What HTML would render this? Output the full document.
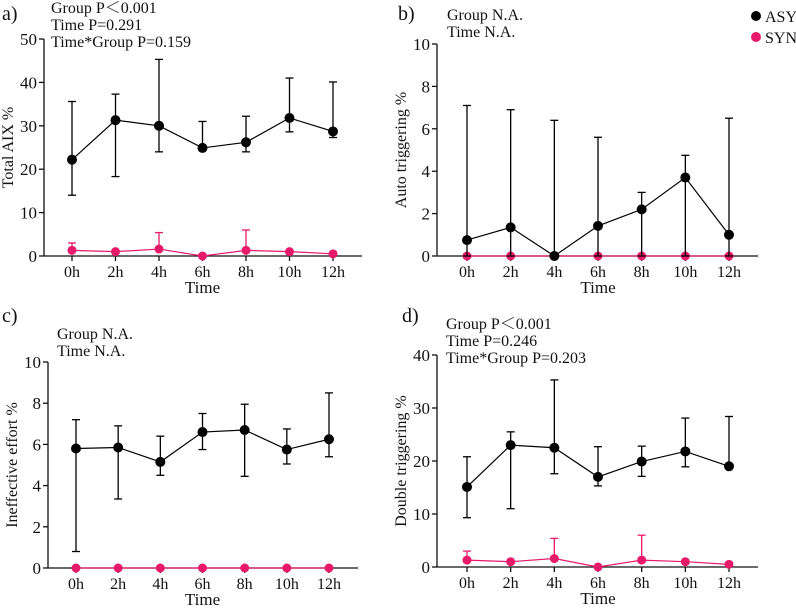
<!DOCTYPE html>
<html><head><meta charset="utf-8"><style>
body{margin:0;background:#fff;}
svg text{font-family:"Liberation Serif","Noto Serif CJK SC",serif;fill:#111;}
</style></head><body>
<svg id="fig" width="796" height="605" viewBox="0 0 796 605" xmlns="http://www.w3.org/2000/svg"></svg>
<script>
const categories=["0h","2h","4h","6h","8h","10h","12h"];
const aAsy=[22.2,31.3,30.0,24.9,26.2,31.8,28.7];
const aAsyLo=[14.0,18.3,24.0,24.9,24.0,28.6,27.3];
const aAsyHi=[35.6,37.3,45.3,31.0,32.2,41.0,40.1];
const aSyn=[1.3,1.0,1.6,0,1.3,1.0,0.5];
const aSynHi=[3.0,1.0,5.4,0,6.0,1.0,0.5];
const bAsy=[0.75,1.35,0,1.42,2.2,3.7,1.0];
const bAsyLo=[0,0,0,0,0,0,0];
const bAsyHi=[7.1,6.9,6.4,5.6,3.0,4.75,6.5];
const bSyn=[0,0,0,0,0,0,0];
const cAsy=[5.8,5.85,5.15,6.6,6.7,5.75,6.25];
const cAsyLo=[0.8,3.35,4.5,5.75,4.45,5.05,5.4];
const cAsyHi=[7.2,6.9,6.4,7.5,7.95,6.75,8.5];
const cSyn=[0,0,0,0,0,0,0];
const dAsy=[15.1,23.0,22.5,17.0,19.9,21.8,19.0];
const dAsyLo=[9.3,11.0,17.6,15.3,17.1,18.9,19.0];
const dAsyHi=[20.8,25.5,35.3,22.7,22.8,28.1,28.4];
const dSyn=[1.3,1.0,1.6,0,1.3,1.0,0.5];
const dSynHi=[3.0,1.0,5.4,0,6.0,1.0,0.5];
const aTicks=[0,10,20,30,40,50];
const bTicks=[0,2,4,6,8,10];
const cTicks=[0,2,4,6,8,10];
const dTicks=[0,10,20,30,40];

const NS="http://www.w3.org/2000/svg";
const svg=document.getElementById('fig');
const PINK="#e8196b";
function el(tag,attrs,parent,text){
  const e=document.createElementNS(NS,tag);
  for(const k in attrs)e.setAttribute(k,attrs[k]);
  if(text!==undefined)e.textContent=text;
  (parent||svg).appendChild(e);return e;
}
function panel(p){
  const g=el('g',{});
  
  
  const ymax=p.ticks[p.ticks.length-1];
  const ys=v=>p.y0-(v/ymax)*(p.y0-p.yTop);
  const xs=i=>p.x0h+i*(p.x12-p.x0h)/(categories.length-1);
  const ya=el('line',{x1:p.ax,y1:p.yTop,x2:p.ax,y2:p.y0,stroke:'#111','stroke-width':1.3},g);
  
  const xa=el('line',{x1:p.ax,y1:p.y0,x2:p.axEnd,y2:p.y0,stroke:'#111','stroke-width':1.3},g);
  
  p.ticks.forEach(t=>{
    el('line',{x1:p.ax-5,y1:ys(t),x2:p.ax,y2:ys(t),stroke:'#111','stroke-width':1.3},g);
    const tl=el('text',{x:p.ax-7,y:ys(t)+6,'text-anchor':'end','font-size':17},g,String(t));
    
  });
  categories.forEach((c,i)=>{
    el('line',{x1:xs(i),y1:p.y0,x2:xs(i),y2:p.y0+5,stroke:'#111','stroke-width':1.3},g);
    const tl=el('text',{x:xs(i),y:p.y0+21,'text-anchor':'middle','font-size':16},g,c);
    
  });
  const xt=el('text',{x:(p.x0h+p.x12)/2,y:p.y0+37,'text-anchor':'middle','font-size':17},g,'Time');
  
  const cy=(p.yTop+p.y0)/2;
  const yt=el('text',{x:p.ax-31,y:cy,'text-anchor':'middle','font-size':16,transform:`rotate(-90 ${p.ax-31} ${cy})`},g,p.ylabel);
  
  const pl=el('text',{x:p.lx,y:p.ly,'font-size':20},g,p.id+')');
  
  p.notes.forEach((n,i)=>{
    const t=el('text',{x:p.nx,y:p.ny+i*17,'font-size':16},g,n);
    
  });
  function series(vals,lo,hi,col,name,r){
    const sg=el('g',{},g);
    
    if(hi)vals.forEach((v,i)=>{
      const l=lo?lo[i]:v,h=hi[i];
      el('line',{x1:xs(i),y1:ys(l),x2:xs(i),y2:ys(h),stroke:col,'stroke-width':1.3},sg);
      if(h>v)el('line',{x1:xs(i)-4,y1:ys(h),x2:xs(i)+4,y2:ys(h),stroke:col,'stroke-width':1.3},sg);
      if(lo&&l<v)el('line',{x1:xs(i)-4,y1:ys(l),x2:xs(i)+4,y2:ys(l),stroke:col,'stroke-width':1.3},sg);
    });
    el('polyline',{points:vals.map((v,i)=>xs(i)+','+ys(v)).join(' '),fill:'none',stroke:col,'stroke-width':1.2},sg);
    vals.forEach((v,i)=>{
      const c=el('circle',{cx:xs(i),cy:ys(v),r:r,fill:col},sg);
      
    });
  }
  series(p.syn,null,p.synHi,PINK,'syn',4.5);
  series(p.asy,p.asyLo,p.asyHi,'#000','asy',5);
}
panel({id:'a',ax:44,axEnd:362,yTop:39,y0:256,x0h:72,x12:333,ticks:aTicks,ylabel:'Total AIX %',lx:2,ly:20,nx:51,ny:13,
  notes:['Group P\uFF1C0.001','Time P=0.291','Time*Group P=0.159'],asy:aAsy,asyLo:aAsyLo,asyHi:aAsyHi,syn:aSyn,synHi:aSynHi});
panel({id:'b',ax:437,axEnd:758,yTop:44,y0:256,x0h:467,x12:729,ticks:bTicks,ylabel:'Auto triggering %',lx:398,ly:20,nx:447,ny:20,
  notes:['Group N.A.','Time N.A.'],asy:bAsy,asyLo:bAsyLo,asyHi:bAsyHi,syn:bSyn,synHi:null});
panel({id:'c',ax:48,axEnd:358,yTop:362,y0:568,x0h:76,x12:329,ticks:cTicks,ylabel:'Ineffective effort %',lx:2,ly:322,nx:57,ny:339,
  notes:['Group N.A.','Time N.A.'],asy:cAsy,asyLo:cAsyLo,asyHi:cAsyHi,syn:cSyn,synHi:null});
panel({id:'d',ax:437,axEnd:758,yTop:355,y0:567,x0h:467,x12:729,ticks:dTicks,ylabel:'Double triggering %',lx:402,ly:322,nx:446,ny:329,
  notes:['Group P\uFF1C0.001','Time P=0.246','Time*Group P=0.203'],asy:dAsy,asyLo:dAsyLo,asyHi:dAsyHi,syn:dSyn,synHi:dSynHi});
const lg=el('g',{});


[['ASY','#000',16],['SYN',PINK,37]].forEach(([n,c,y])=>{
  const e=el('g',{},lg);
  
  
  el('circle',{cx:756,cy:y,r:5,fill:c},e);
  el('text',{x:765,y:y+6,'font-size':16},e,n);
});
</script>
</body></html>
